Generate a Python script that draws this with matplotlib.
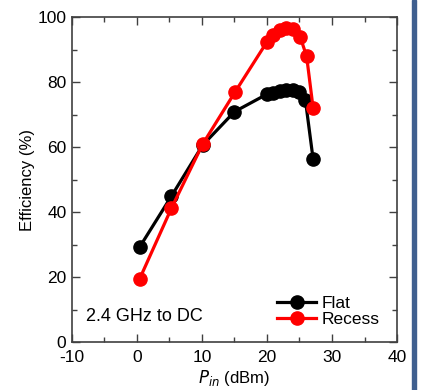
import matplotlib
matplotlib.use("Agg")
import matplotlib.pyplot as plt
from matplotlib.patches import Rectangle
from matplotlib.ticker import MultipleLocator

plt.rcParams['font.family'] = ['Liberation Sans', 'DejaVu Sans']
plt.rcParams['axes.unicode_minus'] = False

flat_x = [0.4, 5.3, 10.1, 15.0, 20.0, 21.0, 22.0, 23.0, 24.0, 25.0, 25.9, 27.1]
flat_y = [29.2, 44.9, 60.6, 70.9, 76.3, 76.8, 77.2, 77.5, 77.5, 77.0, 74.6, 56.2]
rec_x = [0.4, 5.3, 10.1, 15.1, 20.0, 21.0, 22.0, 23.0, 24.0, 25.1, 26.1, 27.1]
rec_y = [19.4, 41.2, 60.9, 77.0, 92.4, 94.6, 96.0, 96.8, 96.5, 94.0, 87.9, 71.9]

fig = plt.figure(figsize=(4.21, 3.90), dpi=100)
ax = fig.add_axes([0.171, 0.123, 0.772, 0.833])

ax.plot(flat_x, flat_y, '-o', color='black', lw=2.3, ms=9.5, label='Flat')
ax.plot(rec_x, rec_y, '-o', color='#ff0000', lw=2.3, ms=9.5, label='Recess')

ax.set_xlim(-10, 40)
ax.set_ylim(0, 100)
ax.xaxis.set_major_locator(MultipleLocator(10))
ax.xaxis.set_minor_locator(MultipleLocator(5))
ax.yaxis.set_major_locator(MultipleLocator(20))
ax.yaxis.set_minor_locator(MultipleLocator(10))
ax.tick_params(which='both', direction='in', top=True, right=True,
               labelsize=12.5, color='#404040')
ax.tick_params(which='major', length=6, width=1)
ax.tick_params(which='minor', length=3.5, width=1)
ax.tick_params(axis='x', which='major', pad=6)
ax.tick_params(axis='y', which='major', pad=4)
for s in ax.spines.values():
    s.set_color('#404040')
    s.set_linewidth(1.2)

ax.set_ylabel('Efficiency (%)', fontsize=12, labelpad=2)
ax.set_xlabel(r'$P_{in}$ (dBm)', fontsize=12, labelpad=2)

ax.text(-7.8, 8, '2.4 GHz to DC', fontsize=13, va='center', ha='left')

leg = ax.legend(loc='lower right', frameon=False, fontsize=12.5,
                handlelength=2.25, handletextpad=0.3, labelspacing=0.05,
                borderaxespad=0.0, bbox_to_anchor=(0.967, 0.025))

fig.patches.append(Rectangle((412/421, 0), 4/421, 1, transform=fig.transFigure,
                             color='#3f5f8f', zorder=10))

fig.savefig('out.png', dpi=100)
